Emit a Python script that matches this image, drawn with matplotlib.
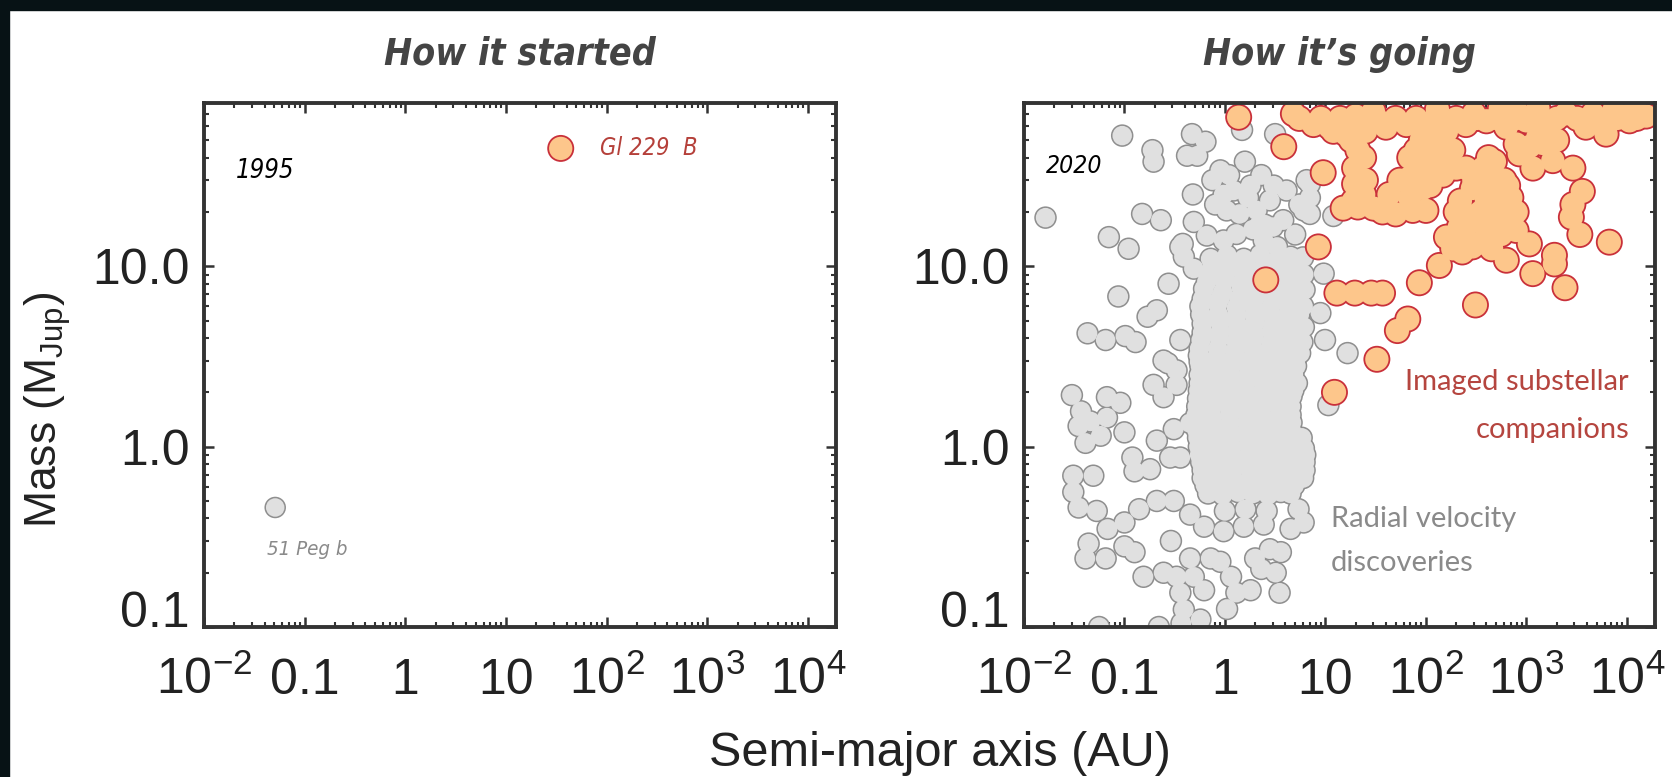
import matplotlib
matplotlib.use('Agg')
import matplotlib.pyplot as plt
import matplotlib.ticker as ticker
from matplotlib import font_manager
from matplotlib.patches import Rectangle

plt.rcParams['font.family'] = ['Liberation Sans', 'DejaVu Sans']
plt.rcParams['mathtext.fontset'] = 'custom'
plt.rcParams['mathtext.rm'] = 'Liberation Sans'
plt.rcParams['mathtext.it'] = 'Liberation Sans:italic'
plt.rcParams['mathtext.bf'] = 'Liberation Sans:bold'

# stand-in for the handwritten font of the original
installed = {f.name for f in font_manager.fontManager.ttflist}
if 'Liberation Sans Narrow' in installed:
    hand = dict(family='Liberation Sans Narrow')
    hscale = 1.0
else:
    hand = dict(family='DejaVu Sans', stretch='condensed')
    hscale = 0.77

# ---- data: semi-major axis (AU) and mass (M_Jup) ----
# 1995
peg_a = [0.051]
peg_m = [0.46]
gl_a = [35]
gl_m = [45]

# 2020: radial velocity discoveries, scattered ones
rv_a = [0.095, 0.19, 0.195, 0.47, 0.64, 0.42, 0.53, 1.48, 3.16, 0.9, 1.58, 0.48,
        0.0164, 0.15, 0.23, 0.07, 0.11, 0.087, 0.49, 0.66, 0.38, 0.49, 0.275,
        0.21, 0.17, 0.043, 0.065, 0.102, 0.129, 0.36, 0.245, 9.9, 8.9, 9.6, 7.0,
        12, 7.0, 16.6, 10.7,
        0.97, 1.22, 1.8, 1.04, 1.4, 2.07, 2.8, 3.06, 4.1, 6.5, 7.0, 6.07, 0.97,
        1.3, 2.43, 3.3, 4.5, 2.2, 3.0, 1.9, 0.36, 0.39,
        0.75, 1.1, 0.8, 1.7, 2.5, 3.8, 5.0, 5.5, 2.3,
        0.03, 0.067, 0.091, 0.037, 0.035, 0.046, 0.067, 0.041, 0.058, 0.1, 0.12,
        0.126, 0.18, 0.21, 0.285, 0.36, 0.195, 0.245, 0.33, 0.33, 0.27, 0.31,
        0.45, 0.031, 0.049, 0.031, 0.035, 0.053, 0.044, 0.041, 0.065, 0.068,
        0.1, 0.14, 0.21, 0.31, 0.45, 0.62, 0.97, 1.54, 2.43, 4.5, 6.07, 0.1,
        0.126, 0.29, 0.155, 0.245, 0.33, 0.45, 0.72, 0.9, 0.36, 0.62, 0.49,
        0.39, 0.57, 1.05, 1.3, 1.15, 1.8, 2.0, 2.8, 3.2, 3.5, 0.056, 0.22, 0.37,
        1.0, 1.6, 2.6, 5.4, 3.6, 2.3]
rv_m = [53, 44, 38, 54, 49, 41, 41, 57, 54, 34, 38, 25,
        18.6, 19.5, 18, 14.5, 12.5, 6.8, 17.6, 14.8, 13.3, 9.7, 8.0,
        5.7, 5.25, 4.25, 3.9, 4.1, 3.8, 3.9, 3.0, 3.9, 5.5, 9.1, 28.6,
        19, 19.5, 3.3, 1.7,
        25, 26.3, 28, 20.4, 19.5, 20.4, 23.2, 28, 26.3, 30, 24, 20.4, 13.9,
        15.1, 13.9, 12.8, 11.3, 17, 16.5, 16, 12.8, 11.3,
        30, 32, 22, 24, 17, 18, 15, 22, 32,
        1.93, 1.88, 1.75, 1.57, 1.3, 1.38, 1.45, 1.05, 1.15, 1.2, 0.87,
        0.73, 0.75, 1.08, 0.87, 0.87, 2.2, 1.88, 2.2, 2.65, 2.9, 1.25,
        1.35, 0.69, 0.69, 0.56, 0.46, 0.44, 0.29, 0.24, 0.24, 0.35,
        0.38, 0.45, 0.5, 0.5, 0.42, 0.36, 0.34, 0.36, 0.37, 0.35, 0.38, 0.28,
        0.26, 0.3, 0.19, 0.2, 0.19, 0.24, 0.24, 0.23, 0.155, 0.16, 0.19,
        0.125, 0.11, 0.126, 0.155, 0.19, 0.16, 0.24, 0.27, 0.2, 0.155, 0.1, 0.1, 0.105,
        0.44, 0.45, 0.44, 0.45, 0.26, 0.21]

# radial velocity discoveries, the dense core at 0.5-7 AU
core_a = [0.72, 1.05, 1.54, 2.25, 3.3, 4.6, 6.0,
          0.75, 1.12, 1.65, 2.45, 3.6, 5.2,
          0.7, 1.0, 1.5, 2.2, 3.2, 4.5, 6.1,
          0.66, 0.98, 1.45, 2.1, 3.1, 4.4, 5.6,
          0.62, 0.95, 1.45, 2.1, 3.1, 4.4, 6.2,
          0.6, 0.9, 1.38, 2.0, 2.95, 4.3, 5.4,
          0.57, 0.85, 1.3, 1.9, 2.8, 4.2, 6.0,
          0.58, 0.86, 1.3, 1.95, 2.9, 4.2, 5.5,
          0.6, 0.9, 1.35, 2.0, 3.0, 4.3, 6.1,
          0.6, 0.9, 1.32, 1.95, 2.9, 4.2, 5.4,
          0.58, 0.88, 1.3, 1.95, 2.9, 4.1, 5.9,
          0.56, 0.85, 1.28, 1.9, 2.8, 4.0, 5.2,
          0.55, 0.82, 1.25, 1.85, 2.7, 4.0, 5.6,
          0.56, 0.8, 1.2, 1.75, 2.6, 3.8, 5.0,
          0.57, 0.8, 1.15, 1.7, 2.5, 3.6, 5.1,
          0.56, 0.8, 1.15, 1.7, 2.45, 3.55, 4.8,
          0.56, 0.78, 1.12, 1.65, 2.4, 3.5, 5.2,
          0.55, 0.78, 1.12, 1.62, 2.38, 3.4, 4.8,
          0.54, 0.76, 1.1, 1.6, 2.35, 3.4, 4.6,
          0.53, 0.75, 1.1, 1.62, 2.38, 3.45, 4.5,
          0.52, 0.75, 1.12, 1.65, 2.4, 3.5, 4.5,
          0.52, 0.76, 1.13, 1.68, 2.42, 3.45, 4.6,
          0.53, 0.77, 1.15, 1.7, 2.45, 3.4, 4.6,
          0.54, 0.78, 1.15, 1.7, 2.48, 3.5, 4.8, 5.8,
          0.55, 0.8, 1.15, 1.7, 2.5, 3.6, 5.0, 6.1,
          0.56, 0.8, 1.18, 1.72, 2.5, 3.6, 5.1, 6.3,
          0.58, 0.82, 1.2, 1.75, 2.5, 3.6, 5.2, 6.2,
          0.6, 0.84, 1.2, 1.78, 2.55, 3.7, 5.2, 6.2,
          0.6, 0.85, 1.2, 1.8, 2.6, 3.8, 5.3, 6.0,
          0.64, 0.9, 1.28, 1.85, 2.65, 3.7, 4.9,
          0.68, 0.95, 1.35, 1.9, 2.7, 3.6, 4.5]
core_m = [11.0, 11.5, 11.0, 11.6, 10.8, 10.5, 11.2,
          10.1, 10.2, 10.0, 10.1, 10.0, 10.1,
          9.2, 8.8, 9.3, 9.0, 9.4, 8.9, 9.0,
          8.2, 8.3, 8.1, 8.2, 8.3, 8.1, 8.2,
          7.5, 7.2, 7.6, 7.3, 7.5, 7.2, 7.4,
          6.6, 6.7, 6.6, 6.7, 6.6, 6.7, 6.6,
          6.0, 6.2, 5.9, 6.1, 5.8, 6.1, 6.0,
          5.4, 5.4, 5.3, 5.4, 5.4, 5.3, 5.4,
          4.8, 4.9, 4.7, 4.9, 4.7, 4.9, 4.6,
          4.3, 4.35, 4.3, 4.3, 4.35, 4.3, 4.3,
          3.9, 4.0, 3.8, 4.0, 3.8, 4.0, 3.8,
          3.5, 3.5, 3.45, 3.5, 3.5, 3.45, 3.5,
          3.2, 3.1, 3.25, 3.1, 3.2, 3.1, 3.3,
          2.95, 2.95, 3.0, 2.95, 2.95, 3.0, 2.95,
          2.8, 2.7, 2.85, 2.75, 2.8, 2.7, 2.8,
          2.5, 2.5, 2.5, 2.5, 2.5, 2.5, 2.5,
          2.25, 2.3, 2.2, 2.3, 2.25, 2.3, 2.25,
          2.05, 2.05, 2.05, 2.05, 2.05, 2.05, 2.05,
          1.85, 1.9, 1.8, 1.9, 1.85, 1.8, 1.9,
          1.67, 1.67, 1.67, 1.67, 1.67, 1.67, 1.67,
          1.5, 1.45, 1.55, 1.5, 1.45, 1.52, 1.5,
          1.36, 1.36, 1.36, 1.36, 1.36, 1.36, 1.36,
          1.22, 1.26, 1.2, 1.25, 1.22, 1.26, 1.22,
          1.12, 1.12, 1.12, 1.12, 1.12, 1.12, 1.12, 1.12,
          1.0, 1.02, 0.98, 1.02, 0.98, 1.0, 1.02, 0.98,
          0.9, 0.9, 0.9, 0.9, 0.9, 0.9, 0.9, 0.9,
          0.82, 0.84, 0.8, 0.83, 0.8, 0.84, 0.8, 0.82,
          0.74, 0.74, 0.74, 0.74, 0.74, 0.74, 0.74, 0.74,
          0.67, 0.68, 0.66, 0.68, 0.66, 0.68, 0.66, 0.67,
          0.61, 0.61, 0.61, 0.61, 0.61, 0.61, 0.61,
          0.55, 0.54, 0.56, 0.55, 0.54, 0.56, 0.55]

# 2020: imaged substellar companions
img_a = [1.37, 3.85, 9.5, 8.5, 2.55, 13, 15, 4.8, 7.6, 12, 14,
         19.6, 28.6, 37, 86, 136, 52, 66, 32.5, 311, 2420, 6680, 631, 1157,
         1900, 1900, 1070, 790, 730, 12.3,
         370, 500, 290, 200, 400, 580, 790, 160, 250, 400, 630, 320, 215, 185,
         290, 400, 540, 540,
         250, 300, 450, 650, 350, 500, 700, 220, 280, 450, 560, 350, 450, 230,
         260, 600, 480, 420,
         80, 69, 126, 185, 200, 147, 69, 55, 93, 100, 160, 110, 130, 90,
         21, 19.5, 19.5, 19, 21, 30, 37, 50, 74, 100, 69, 43, 24, 25, 24,
         11, 16, 25, 40, 64, 100, 160, 250, 400, 630, 1000, 1570, 2480, 3900,
         6200, 10600, 15500, 4600, 7400, 30, 130, 550, 20, 300, 800, 1300, 12000,
         5.5, 9, 14, 20, 32, 50, 80, 125, 200, 320, 500, 800, 1250, 2000, 3200,
         5000, 8000, 12500, 18, 1300, 2000,
         850, 1160, 1830, 2900, 3600, 2900, 2800, 3400, 1450, 1070, 790]
img_m = [67, 46, 33, 12.8, 8.4, 7.1, 21, 70, 61, 56, 64,
         7.1, 7.1, 7.1, 8.1, 10.1, 4.4, 5.1, 3.05, 6.1, 7.6, 13.6, 10.8, 9.1,
         11.5, 10.3, 13.3, 15.8, 19, 2.0,
         35, 31, 27, 20, 23, 23, 20, 14.5, 14, 15, 16.5, 18, 16.5, 12.5,
         12.8, 18.7, 19.5, 27,
         35, 30, 28, 28, 20, 21, 24, 23, 19, 17, 15, 13.5, 12.5, 12,
         17, 30, 38, 40,
         44, 40, 42, 44, 35, 32, 31, 30, 27, 35, 38, 28, 48, 50,
         44, 35, 28.6, 23, 21.3, 21, 20, 19.5, 20.4, 20.4, 24, 25, 40, 30, 25,
         59, 54, 56, 59, 61, 59, 56, 61, 64, 59, 64, 61, 70, 59,
         54, 64, 68, 70, 73, 72, 74, 75, 68, 70, 72, 75, 75,
         66, 66, 66, 66, 66, 66, 66, 66, 66, 66, 66, 66, 66, 66, 66,
         66, 66, 66, 50, 52, 50,
         42, 35, 38.5, 35, 26, 22, 18.7, 15, 48, 46, 47.6]

xtick_vals = [1e-2, 0.1, 1, 10, 1e2, 1e3, 1e4]
xtick_text = [r'$\mathregular{10^{-2}}$', '0.1', '1', '10',
              r'$\mathregular{10^{2}}$', r'$\mathregular{10^{3}}$', r'$\mathregular{10^{4}}$']
ytick_vals = [0.1, 1, 10]
ytick_text = ['0.1', '1.0', '10.0']

gray_face, gray_edge = '#e0e0e0', '#8f8f8f'
orange_face, orange_edge = '#fdc68b', '#c9303a'
axis_col = '#333333'


def blob(ax, a, m, d, lw, face, edge, z):
    # outline pass then fill pass, so overlapping circles merge into one shape
    ax.scatter(a, m, s=d ** 2, marker='o', facecolor=edge, edgecolor='none', zorder=z)
    ax.scatter(a, m, s=(d - 2 * lw) ** 2, marker='o', facecolor=face, edgecolor='none', zorder=z + 0.5)


fig = plt.figure(figsize=(16.72, 7.77), dpi=100)
fig.patch.set_facecolor('white')
# dark frame along the top and left edge
fig.add_artist(Rectangle((0, 1 - 10 / 777), 1, 10 / 777, transform=fig.transFigure,
                         color='#071215', zorder=10))
fig.add_artist(Rectangle((0, 0), 9 / 1672, 1, transform=fig.transFigure,
                         color='#071215', zorder=10))

ax1 = fig.add_axes([0.122, 0.193, 0.378, 0.674])
ax2 = fig.add_axes([0.6124, 0.193, 0.3774, 0.674])

for ax in (ax1, ax2):
    ax.set_xscale('log')
    ax.set_yscale('log')
    ax.set_xlim(0.01, 1.9e4)
    ax.set_ylim(0.1, 80)
    ax.set_xticks(xtick_vals)
    ax.set_xticklabels(xtick_text)
    ax.set_yticks(ytick_vals)
    ax.set_yticklabels(ytick_text)
    ax.xaxis.set_minor_locator(ticker.LogLocator(base=10, subs=(2, 3, 4, 5, 6, 7, 8, 9), numticks=30))
    ax.yaxis.set_minor_locator(ticker.LogLocator(base=10, subs=(2, 3, 4, 5, 6, 7, 8, 9), numticks=30))
    ax.xaxis.set_minor_formatter(ticker.NullFormatter())
    ax.yaxis.set_minor_formatter(ticker.NullFormatter())
    ax.tick_params(which='both', direction='in', top=True, right=True, colors=axis_col,
                   labelcolor='#222222')
    ax.tick_params(which='major', length=7, width=1.8, labelsize=36)
    ax.tick_params(which='minor', length=3.5, width=1.5)
    ax.tick_params(axis='x', which='major', pad=48)
    ax.tick_params(axis='y', which='major', pad=10)
    for lbl in ax.get_xticklabels():
        lbl.set_verticalalignment('baseline')
    ax.get_yticklabels()[0].set_verticalalignment('baseline')
    for sp in ax.spines.values():
        sp.set_linewidth(2.8)
        sp.set_color(axis_col)
        sp.set_zorder(6)

# left panel: 1995
blob(ax1, peg_a, peg_m, 15.5, 1.1, gray_face, gray_edge, 2)
blob(ax1, gl_a, gl_m, 19.4, 1.3, orange_face, orange_edge, 3)
ax1.annotate('Gl 229  B', (gl_a[0], gl_m[0]), xytext=(28, 0), textcoords='offset points',
             ha='left', va='center', color='#b5403a', fontsize=22 * hscale, style='italic', **hand)
ax1.annotate('51 Peg b', (peg_a[0], peg_m[0]), xytext=(-6, -30), textcoords='offset points',
             ha='left', va='center', color='#8a8a8a', fontsize=19 * hscale, style='italic', **hand)
ax1.text(0.05, 0.87, '1995', transform=ax1.transAxes, ha='left', va='center',
         fontsize=24 * hscale, style='italic', color='black', **hand)

# right panel: 2020
blob(ax2, rv_a + core_a, rv_m + core_m, 16.2, 1.1, gray_face, gray_edge, 2)
blob(ax2, img_a, img_m, 19.4, 1.3, orange_face, orange_edge, 3)
ax2.text(0.035, 0.88, '2020', transform=ax2.transAxes, ha='left', va='center',
         fontsize=23 * hscale, style='italic', color='black', zorder=5, **hand)
ax2.text(0.959, 0.468, 'Imaged substellar', transform=ax2.transAxes, ha='right', va='center',
         fontsize=21, color='#b5453f', family=['Lato', 'DejaVu Sans'], zorder=5)
ax2.text(0.959, 0.376, 'companions', transform=ax2.transAxes, ha='right', va='center',
         fontsize=21, color='#b5453f', family=['Lato', 'DejaVu Sans'], zorder=5)
ax2.text(0.487, 0.206, 'Radial velocity', transform=ax2.transAxes, ha='left', va='center',
         fontsize=21, color='#8a8a8a', family=['Lato', 'DejaVu Sans'], zorder=5)
ax2.text(0.487, 0.122, 'discoveries', transform=ax2.transAxes, ha='left', va='center',
         fontsize=21, color='#8a8a8a', family=['Lato', 'DejaVu Sans'], zorder=5)

# titles and shared axis labels
fig.text(0.311, 0.93, 'How it started', ha='center', va='center', fontsize=35 * hscale,
         weight='bold', style='italic', color='#444444', **hand)
fig.text(0.801, 0.93, 'How it\u2019s going', ha='center', va='center', fontsize=35 * hscale,
         weight='bold', style='italic', color='#444444', **hand)
fig.text(0.562, 0.03, 'Semi-major axis (AU)', ha='center', va='center', fontsize=35, color='#222222')
fig.text(0.0287, 0.472, r'Mass (M$_{\mathregular{Jup}}$)', ha='center', va='center',
         rotation=90, fontsize=32, color='#222222')

fig.savefig('out.png', dpi=100, facecolor=fig.get_facecolor())
